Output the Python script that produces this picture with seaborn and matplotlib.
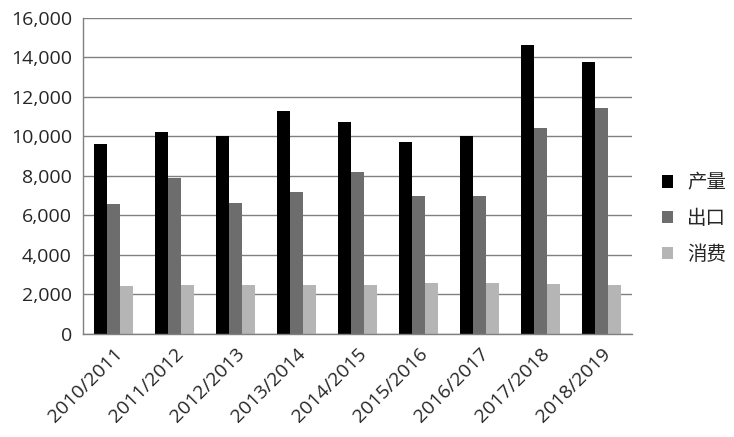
import numpy as np
import pandas as pd
import matplotlib
matplotlib.use('Agg')
import matplotlib.pyplot as plt
import seaborn as sns
from matplotlib.ticker import FuncFormatter

seasons = ['2010/2011', '2011/2012', '2012/2013', '2013/2014', '2014/2015',
           '2015/2016', '2016/2017', '2017/2018', '2018/2019']
production = [9600, 10200, 10000, 11300, 10750, 9700, 10000, 14650, 13750]
exports = [6600, 7900, 6650, 7200, 8200, 7000, 7000, 10450, 11450]
consumption = [2400, 2450, 2450, 2450, 2450, 2600, 2600, 2550, 2500]
series_names = ['产量', '出口', '消费']
series_colors = ['#000000', '#6d6d6d', '#b5b5b5']

df = pd.DataFrame({
    'season': seasons * 3,
    'value': production + exports + consumption,
    'series': [series_names[0]] * 9 + [series_names[1]] * 9 + [series_names[2]] * 9,
})

sns.set_style('white')
plt.rcParams['font.family'] = ['Open Sans', 'Noto Sans CJK SC', 'DejaVu Sans']

fig = plt.figure(figsize=(7.34, 4.37), dpi=100)
ax = fig.add_axes([0.113, 0.236, 0.748, 0.723])

sns.barplot(data=df, x='season', y='value', hue='series', order=seasons,
            hue_order=series_names, palette=series_colors, width=0.64,
            saturation=1, linewidth=0, ax=ax)

ax.set_ylim(0, 16000)
ax.set_yticks(np.arange(0, 16001, 2000))
ax.yaxis.set_major_formatter(FuncFormatter(lambda v, p: f'{int(v):,}'))
ax.grid(axis='y', color='#808080', linewidth=1)
ax.set_axisbelow(True)
ax.set_xlim(-0.5, 8.5)

for s in ['top', 'right']:
    ax.spines[s].set_visible(False)
for s in ['left', 'bottom']:
    ax.spines[s].set_color('#808080')
    ax.spines[s].set_linewidth(1)

ax.tick_params(axis='both', length=0, labelsize=14, pad=8)
plt.setp(ax.get_xticklabels(), rotation=45, ha='right', rotation_mode='anchor')
ax.set_xlabel('')
ax.set_ylabel('')

ax.legend(loc='center left', bbox_to_anchor=(1.04, 0.365), frameon=False,
          borderaxespad=0, handlelength=0.6, handleheight=0.6, labelspacing=0.75,
          handletextpad=0.7,
          prop={'family': ['Noto Sans CJK SC', 'DejaVu Sans'], 'size': 14})

fig.savefig('out.png', dpi=100, facecolor='white')
